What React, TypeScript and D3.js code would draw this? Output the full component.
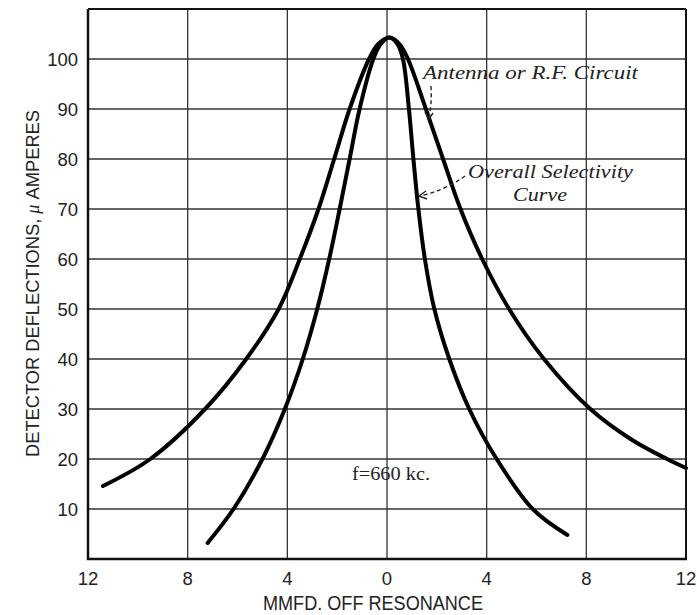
import React from "react";
import * as d3 from "d3";

// Antenna or R.F. circuit curve: mmfd off resonance (signed) and deflection
const antennaX = [-11.4, -9.5, -7.3, -5.65, -4.35, -3.5, -2.75, -2.12, -1.5, -0.72, -0.35, 0.1, 0.5, 0.84, 1.56, 2.25, 2.95, 3.82, 4.9, 6.3, 8.16, 9.84, 11.24, 12];
const antennaY = [14.6, 20, 30, 40, 50, 60, 70, 80, 90, 100, 103, 104.3, 103, 100, 90, 80, 70, 60, 50, 40, 30, 23.8, 20, 18.2];

// Overall selectivity curve
const overallX = [-7.2, -6.16, -5.0, -4.1, -3.38, -2.8, -2.32, -1.9, -1.5, -1.1, -0.55, -0.25, 0.1, 0.42, 0.64, 0.88, 1.06, 1.26, 1.52, 1.9, 2.5, 3.3, 4.4, 5.85, 7.24];
const overallY = [3.2, 10, 20, 30, 40, 50, 60, 70, 80, 90, 100, 103, 104.3, 103, 100, 90, 80, 70, 60, 50, 40, 30, 20, 10, 4.8];

const xTicks = [-12, -8, -4, 0, 4, 8, 12];
const xGrid = [-8, -4, 0, 4, 8];
const yTicks = [10, 20, 30, 40, 50, 60, 70, 80, 90, 100];

const W = 697;
const H = 615;
const L = 88, R = 686, T = 9, B = 559;

export default function App() {
  const x = d3.scaleLinear().domain([-12, 12]).range([L, R]);
  const y = d3.scaleLinear().domain([0, 110]).range([B, T]);

  const line = d3
    .line<[number, number]>()
    .x((d) => x(d[0]))
    .y((d) => y(d[1]))
    .curve(d3.curveCatmullRom.alpha(0.5));

  const aPts = antennaX.map((v, i) => [v, antennaY[i]] as [number, number]);
  const oPts = overallX.map((v, i) => [v, overallY[i]] as [number, number]);

  const sans = "'Liberation Sans', Arial, sans-serif";
  const serif = "'Liberation Serif', 'Times New Roman', serif";

  return (
    <svg
      width={W}
      height={H}
      viewBox={`0 0 ${W} ${H}`}
      style={{ position: "absolute", left: 0, top: 0, background: "#fff" }}
    >
      <rect x={0} y={0} width={W} height={H} fill="#fff" />
      {/* grid */}
      {xGrid.map((v) => (
        <line key={"gx" + v} x1={x(v)} x2={x(v)} y1={T} y2={B} stroke="#333" strokeWidth={1.3} />
      ))}
      {yTicks.map((v) => (
        <line key={"gy" + v} x1={L} x2={R} y1={y(v)} y2={y(v)} stroke="#333" strokeWidth={1.3} />
      ))}
      {/* frame */}
      <line x1={L} x2={R} y1={T} y2={T} stroke="#111" strokeWidth={2} />
      <line x1={R} x2={R} y1={T} y2={B} stroke="#111" strokeWidth={2} />
      <line x1={L} x2={L} y1={T} y2={B + 1} stroke="#111" strokeWidth={2.5} />
      <line x1={L - 1} x2={R + 1} y1={B} y2={B} stroke="#111" strokeWidth={2.5} />

      {/* y tick labels */}
      {yTicks.map((v) => (
        <text
          key={"ty" + v}
          x={78}
          y={y(v) + 6.5}
          textAnchor="end"
          fontFamily={sans}
          fontSize={18.5}
          fill="#222"
        >
          {v}
        </text>
      ))}
      {/* x tick labels */}
      {xTicks.map((v) => (
        <text
          key={"tx" + v}
          x={x(v)}
          y={585}
          textAnchor="middle"
          fontFamily={sans}
          fontSize={18.5}
          fill="#222"
        >
          {Math.abs(v)}
        </text>
      ))}

      {/* axis titles */}
      <text
        x={263}
        y={610}
        fontFamily={sans}
        fontSize={20}
        fill="#222"
        textLength={220}
        lengthAdjust="spacingAndGlyphs"
      >
        MMFD. OFF RESONANCE
      </text>
      <text
        transform={`translate(39, 457) rotate(-90)`}
        x={0}
        y={0}
        fontFamily={sans}
        fontSize={19}
        fill="#222"
        textLength={347}
        lengthAdjust="spacingAndGlyphs"
      >
        DETECTOR DEFLECTIONS, <tspan fontFamily={serif} fontStyle="italic">μ</tspan> AMPERES
      </text>

      {/* curves */}
      <path d={line(aPts) || ""} fill="none" stroke="#000" strokeWidth={4} strokeLinecap="round" strokeLinejoin="round" />
      <path d={line(oPts) || ""} fill="none" stroke="#000" strokeWidth={4} strokeLinecap="round" strokeLinejoin="round" />

      {/* annotations */}
      <text
        x={423}
        y={79}
        fontFamily={serif}
        fontStyle="italic"
        fontSize={19}
        fill="#222"
        textLength={215}
        lengthAdjust="spacingAndGlyphs"
      >
        Antenna or R.F. Circuit
      </text>
      <path d="M431,86 Q432,104 429,117" fill="none" stroke="#222" strokeWidth={1.4} strokeDasharray="4,3" />
      <path d="M425,112 L429,119 L433,113" fill="none" stroke="#222" strokeWidth={1.4} />

      <text
        x={468}
        y={178}
        fontFamily={serif}
        fontStyle="italic"
        fontSize={19}
        fill="#222"
        textLength={165}
        lengthAdjust="spacingAndGlyphs"
      >
        Overall Selectivity
      </text>
      <text
        x={513}
        y={201}
        fontFamily={serif}
        fontStyle="italic"
        fontSize={19}
        fill="#222"
        textLength={54}
        lengthAdjust="spacingAndGlyphs"
      >
        Curve
      </text>
      <path d="M465,176 Q446,190 420,196" fill="none" stroke="#222" strokeWidth={1.4} strokeDasharray="4,3" />
      <path d="M426,191 L419,196 L427,199" fill="none" stroke="#222" strokeWidth={1.4} />

      <text
        x={352}
        y={480}
        fontFamily={serif}
        fontSize={19}
        fill="#222"
        textLength={78}
        lengthAdjust="spacingAndGlyphs"
      >
        f=660 kc.
      </text>
    </svg>
  );
}
